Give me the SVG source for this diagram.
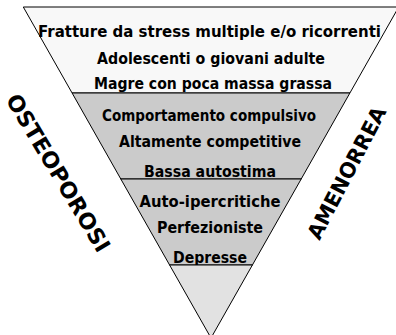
<svg xmlns="http://www.w3.org/2000/svg" width="396" height="335" viewBox="0 0 396 335">
<style>
.band{stroke:#000;stroke-width:1}
.t{font-family:"DejaVu Sans","Liberation Sans",sans-serif;font-weight:bold;font-size:15px;fill:#000;text-anchor:middle}
.side{font-family:"DejaVu Sans","Liberation Sans",sans-serif;font-weight:bold;font-size:22px;fill:#000;text-anchor:middle;dominant-baseline:central}
</style>
<rect width="396" height="335" fill="#fff"/>
<g id="band1">
<polygon class="band" fill="#f8f8f8" points="23.3,7 398.7,7 349.9,93 72.1,93"/>
<text class="t" x="209.5" y="37" textLength="343" lengthAdjust="spacingAndGlyphs">Fratture da stress multiple e/o ricorrenti</text>
<text class="t" x="211" y="63.5" textLength="228" lengthAdjust="spacingAndGlyphs">Adolescenti o giovani adulte</text>
<text class="t" x="213" y="89" textLength="238" lengthAdjust="spacingAndGlyphs">Magre con poca massa grassa</text>
</g>
<g id="band2">
<polygon class="band" fill="#cbcbcb" points="72.1,93 349.9,93 301.2,179 120.8,179"/>
<text class="t" x="209" y="121" textLength="214" lengthAdjust="spacingAndGlyphs">Comportamento compulsivo</text>
<text class="t" x="210" y="147" textLength="182" lengthAdjust="spacingAndGlyphs">Altamente competitive</text>
<text class="t" x="210" y="177" textLength="132" lengthAdjust="spacingAndGlyphs">Bassa autostima</text>
</g>
<g id="band3">
<polygon class="band" fill="#cbcbcb" points="120.8,179 301.2,179 252.4,265 169.6,265"/>
<text class="t" x="210" y="207" textLength="141" lengthAdjust="spacingAndGlyphs">Auto-ipercritiche</text>
<text class="t" x="210" y="233" textLength="106" lengthAdjust="spacingAndGlyphs">Perfezioniste</text>
<text class="t" x="210" y="263" textLength="74" lengthAdjust="spacingAndGlyphs">Depresse</text>
</g>
<g id="band4">
<polygon class="band" fill="#e2e2e2" points="169.6,265 252.4,265 211,338"/>
</g>
<g id="osteoporosi">
<text class="side" transform="translate(58,173) rotate(59)" textLength="180" lengthAdjust="spacingAndGlyphs">OSTEOPOROSI</text>
</g>
<g id="amenorrea">
<text class="side" style="font-size:21px" transform="translate(347,173) rotate(-62.5)" textLength="146" lengthAdjust="spacingAndGlyphs">AMENORREA</text>
</g>
</svg>
